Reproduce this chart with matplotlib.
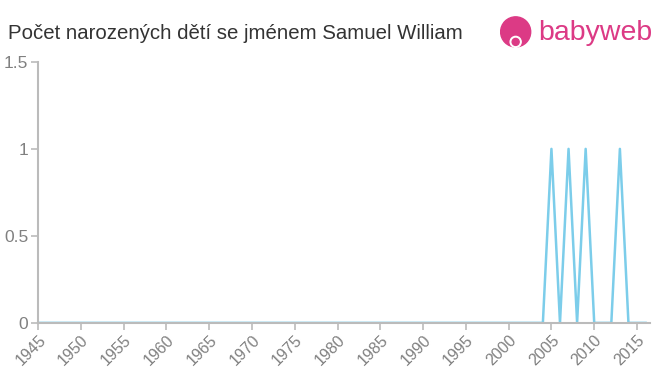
import numpy as np
import matplotlib.pyplot as plt
from matplotlib.patches import Circle

plt.rcParams['font.family'] = ['Liberation Sans', 'DejaVu Sans']

years = list(range(1945, 2017))
peak_years = [2005, 2007, 2009, 2013]
counts = [1 if y in peak_years else 0 for y in years]

x_ticks = list(range(1945, 2016, 5))
y_ticks = [0, 0.5, 1, 1.5]
y_labels = ["0", "0.5", "1", "1.5"]

fig = plt.figure(figsize=(6.6, 3.75), dpi=100)
ax = fig.add_axes([0.0576, 0.139, 0.927, 0.696])

ax.plot(years, counts, color="#7ccdea", linewidth=1.8)

ax.set_xlim(1945, 2016.5)
ax.set_ylim(0, 1.5)
ax.set_xticks(x_ticks)
ax.set_xticklabels([str(t) for t in x_ticks], rotation=45, ha="right", rotation_mode="anchor")
ax.set_yticks(y_ticks)
ax.set_yticklabels(y_labels)

for s in ["top", "right"]:
    ax.spines[s].set_visible(False)
for s in ["left", "bottom"]:
    ax.spines[s].set_color("#bbbbbb")
    ax.spines[s].set_linewidth(1.5)
ax.tick_params(axis="both", colors="#bbbbbb", length=5, width=1.2)
ax.tick_params(axis="x", labelcolor="#808080", labelsize=11.5, pad=2)
ax.tick_params(axis="y", labelcolor="#808080", labelsize=12.5, pad=2)

fig.text(0.012, 0.91, "Počet narozených dětí se jménem Samuel William",
         fontsize=14.7, color="#333333", va="center", ha="left")

# logo
logo_ax = fig.add_axes([0.757, 0.84, 0.243, 0.15])
logo_ax.set_xlim(0, 160)
logo_ax.set_ylim(0, 56)
logo_ax.set_aspect("equal")
logo_ax.axis("off")
pink = "#dc3a85"
logo_ax.add_patch(Circle((16, 28), 15, color=pink))
logo_ax.add_patch(Circle((16, 18), 5.5, color="white"))
logo_ax.add_patch(Circle((16, 18), 3.5, color=pink))
logo_ax.text(38, 27, "babyweb", fontsize=20.5, color=pink, va="center", ha="left")

fig.savefig("out.png", dpi=100)
